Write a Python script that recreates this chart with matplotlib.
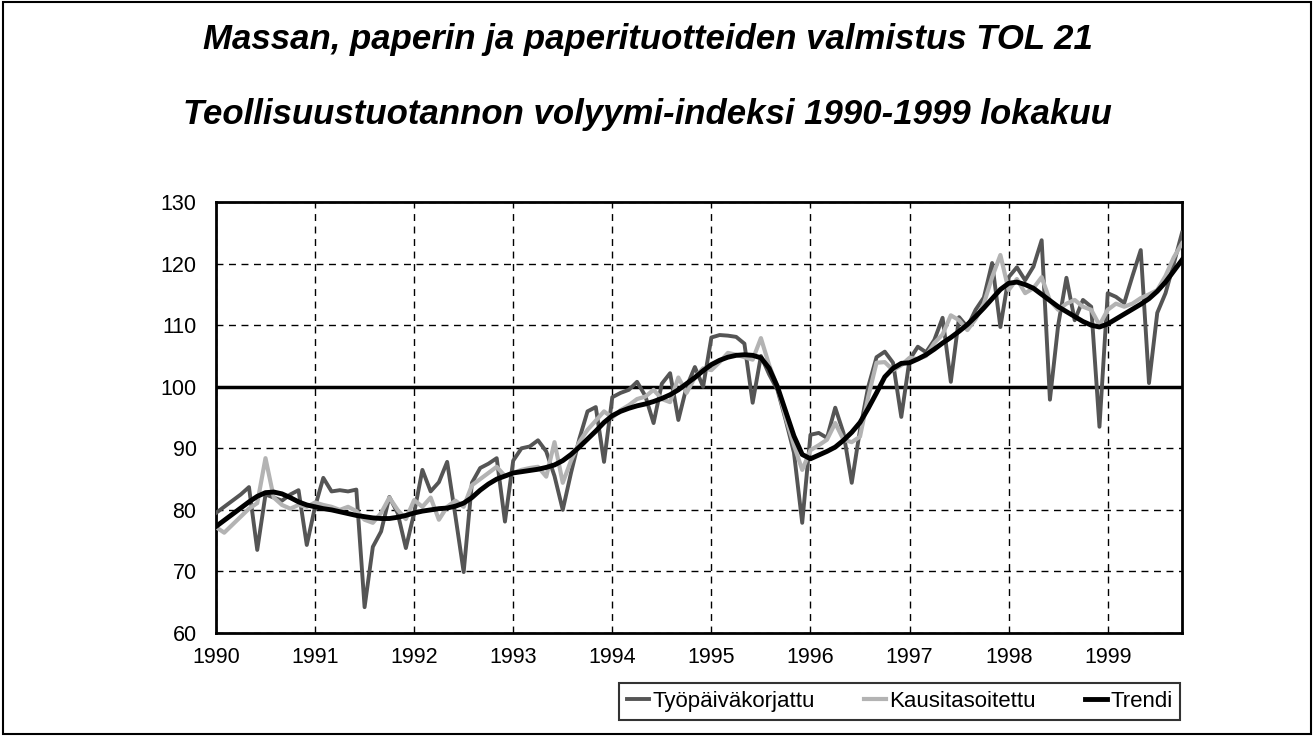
import matplotlib
matplotlib.use("Agg")
import matplotlib.pyplot as plt
import numpy as np

# monthly index, Jan 1990 .. Oct 1999
years = [str(y) for y in range(1990, 2000)]

# Tyopaivakorjattu (working-day adjusted)
tyopaiva = [
    79.5, 80.5, 81.5, 82.5, 83.7, 73.5, 82.5, 82.0, 81.5, 82.5, 83.2, 74.3,
    80.5, 85.2, 83.0, 83.2, 83.0, 83.3, 64.2, 74.0, 76.5, 82.1, 79.5, 73.8,
    79.5, 86.5, 83.0, 84.5, 87.8, 79.0, 69.9, 84.4, 86.8, 87.5, 88.4, 78.1,
    88.0, 90.0, 90.3, 91.3, 89.5, 85.5, 80.0, 86.0, 91.5, 96.0, 96.7, 87.8,
    98.3, 99.0, 99.5, 100.8, 98.5, 94.1, 100.5, 102.2, 94.6, 100.0, 103.2, 100.0,
    108.0, 108.4, 108.3, 108.1, 107.0, 97.4, 105.0, 102.0, 99.5, 94.6, 89.3, 77.9,
    92.2, 92.5, 91.7, 96.6, 92.5, 84.4, 93.0, 100.0, 104.8, 105.7, 103.9, 95.1,
    104.4, 106.5, 105.6, 107.6, 111.2, 100.8, 111.3, 109.7, 112.5, 114.5, 120.1, 109.7,
    117.8, 119.4, 117.3, 119.5, 123.8, 97.9, 110.0, 117.7, 110.8, 114.1, 113.0, 93.5,
    115.2, 114.6, 113.6, 118.0, 122.2, 100.6, 112.0, 115.2, 120.0, 125.0,
]

# Kausitasoitettu (seasonally adjusted)
kausi = [
    77.2, 76.3, 77.6, 78.9, 80.2, 81.1, 88.4, 82.0, 80.8, 80.2, 80.8, 80.5,
    81.2, 80.8, 80.5, 80.0, 80.5, 79.8, 78.4, 77.9, 79.5, 82.0, 80.0, 78.5,
    81.6, 80.5, 82.0, 78.4, 80.5, 81.5, 80.5, 84.0, 85.0, 86.0, 87.0, 85.5,
    86.0, 86.5, 86.8, 87.0, 85.4, 91.0, 84.4, 88.0, 91.0, 93.0, 94.5, 96.0,
    95.0, 96.2, 97.0, 98.0, 98.4, 99.5, 98.0, 97.5, 101.5, 99.0, 101.5, 103.0,
    102.7, 104.0, 105.5, 105.2, 104.8, 104.4, 107.9, 103.5, 100.0, 95.0, 90.5, 86.5,
    89.7, 90.5, 91.4, 94.1, 91.4, 91.0, 91.9, 98.4, 103.9, 104.0, 102.7, 103.5,
    104.7, 104.5, 105.0, 107.1, 108.5, 111.6, 110.8, 109.2, 111.0, 113.5, 117.8, 121.4,
    115.7, 117.5, 115.2, 116.0, 117.8, 114.0, 112.5, 113.5, 114.1, 113.0, 112.5, 110.0,
    112.5, 113.5, 113.0, 113.5, 114.4, 115.0, 115.7, 118.0, 121.0, 123.3,
]

# Trendi
trendi = [
    77.3, 78.3, 79.3, 80.3, 81.3, 82.2, 82.8, 82.9, 82.6, 82.0, 81.3, 80.8,
    80.5, 80.2, 80.0, 79.7, 79.4, 79.1, 78.9, 78.7, 78.6, 78.6, 78.8, 79.1,
    79.5, 79.8, 80.0, 80.2, 80.3, 80.6, 81.1, 82.0, 83.2, 84.2, 85.0, 85.5,
    86.0, 86.2, 86.4, 86.6, 86.9, 87.3, 88.0, 89.0, 90.2, 91.5, 92.8, 94.2,
    95.3, 96.0, 96.5, 96.9, 97.2, 97.6, 98.1, 98.7, 99.5, 100.5, 101.5, 102.6,
    103.6, 104.3, 104.8, 105.1, 105.2, 105.1, 104.7, 103.0, 100.0, 96.0, 92.0, 89.0,
    88.3, 88.9, 89.5, 90.2, 91.3, 92.6, 94.2, 96.5, 99.0, 101.6, 103.0, 103.8,
    103.9, 104.5, 105.2, 106.1, 107.1, 108.0, 109.0, 110.1, 111.4, 112.8, 114.3, 115.8,
    116.8, 117.0, 116.6, 116.0, 115.0, 114.0, 113.0, 112.2, 111.4, 110.6, 110.0, 109.7,
    110.2, 111.0, 111.8, 112.6, 113.4, 114.3, 115.5, 117.0, 118.8, 120.6,
]

plt.rcParams['font.family'] = ['Liberation Sans', 'DejaVu Sans']

fig = plt.figure(figsize=(13.16, 7.36), dpi=100)
ax = fig.add_axes([0.1641, 0.1399, 0.7341, 0.5856])

x = np.arange(len(trendi))
ax.plot(x, tyopaiva, color='#555555', lw=2.8, label='Työpäiväkorjattu', zorder=3)
ax.plot(x, kausi, color='#b3b3b3', lw=3.0, label='Kausitasoitettu', zorder=4)
ax.plot(x, trendi, color='black', lw=3.5, label='Trendi', zorder=5)

ax.axhline(100, color='black', lw=2.5, zorder=2)

ax.set_xlim(0, len(trendi) - 1)
ax.set_ylim(60, 130)
ax.set_yticks(range(60, 131, 10))
ax.set_xticks(range(0, len(trendi), 12))
ax.set_xticklabels(years)
ax.tick_params(axis='both', length=0, labelsize=15.5)
ax.tick_params(axis='y', pad=14)
ax.tick_params(axis='x', pad=10)
ax.grid(True, color='black', ls=(0, (5, 4)), lw=1.0)
ax.set_axisbelow(True)
for s in ax.spines.values():
    s.set_linewidth(2)

fig.text(0.492, 0.946, 'Massan, paperin ja paperituotteiden valmistus TOL 21',
         ha='center', va='center', fontsize=25, fontweight='bold', style='italic')
fig.text(0.492, 0.844, 'Teollisuustuotannon volyymi-indeksi 1990-1999 lokakuu',
         ha='center', va='center', fontsize=25, fontweight='bold', style='italic')

leg = fig.legend(loc='lower right', bbox_to_anchor=(0.897, 0.022), ncol=3,
                 fontsize=16, frameon=True, fancybox=False, edgecolor='black',
                 handlelength=1.0, handletextpad=0.15, columnspacing=2.2,
                 borderpad=0.35, borderaxespad=0)
leg.get_frame().set_linewidth(1.5)

# border around whole chart
fig.patches.append(plt.Rectangle((0.002, 0.003), 0.994, 0.994, transform=fig.transFigure,
                                 fill=False, edgecolor='black', lw=1.5))

fig.savefig('out.png', dpi=100)
